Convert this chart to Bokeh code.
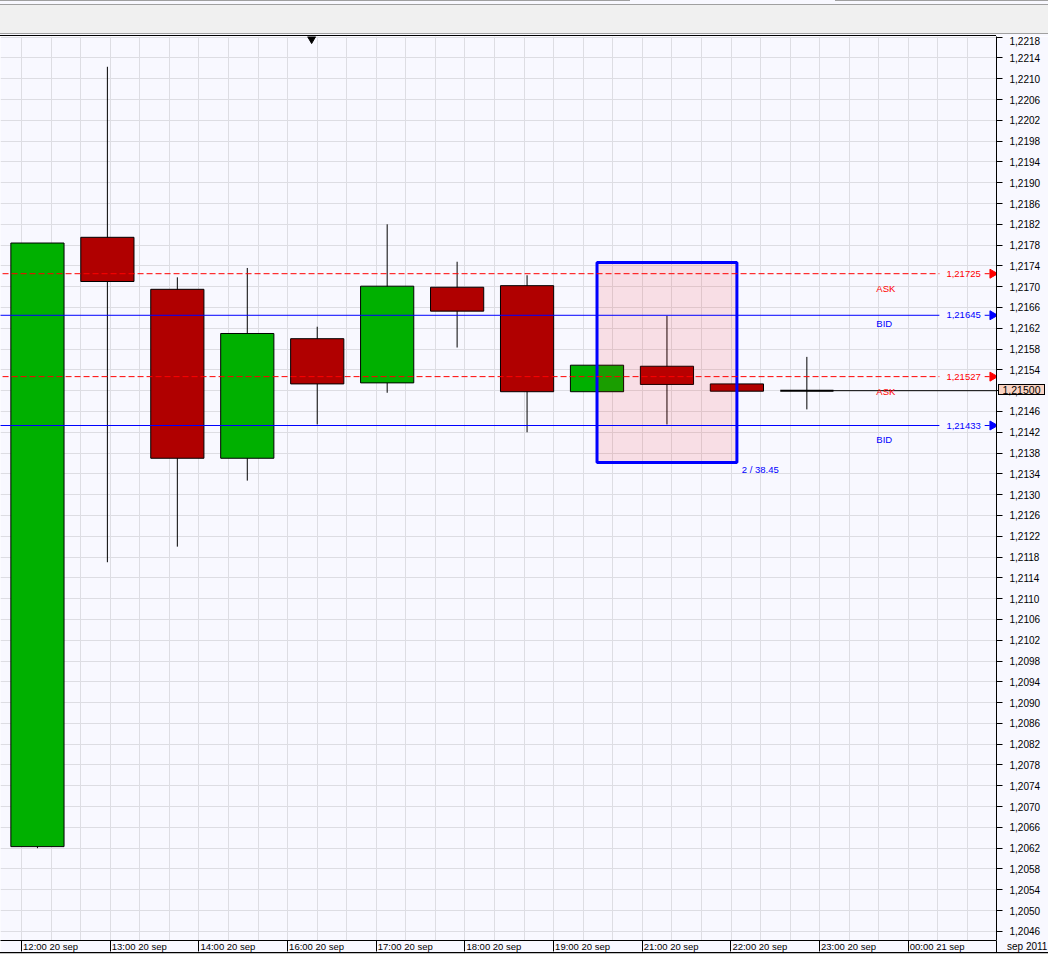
import math
from bokeh.plotting import figure
from bokeh.models import (Range1d, FixedTicker, CustomJSTickFormatter, Div,
                          ColumnDataSource)
from bokeh.layouts import column
from bokeh.embed import file_html
from bokeh.resources import INLINE
from bokeh.core.properties import value

# ---------------- data ----------------
candle_idx = list(range(12))
opens  = [1.20623, 1.21795, 1.21695, 1.21370, 1.21600, 1.21515,
          1.21699, 1.21702, 1.21498, 1.21547, 1.21513, 1.21500]
highs  = [1.21784, 1.22123, 1.21718, 1.21736, 1.21623, 1.21820,
          1.21748, 1.21722, 1.21549, 1.21644, 1.21513, 1.21565]
lows   = [1.20620, 1.21170, 1.21200, 1.21327, 1.21435, 1.21496,
          1.21583, 1.21420, 1.21498, 1.21435, 1.21499, 1.21464]
closes = [1.21784, 1.21710, 1.21370, 1.21610, 1.21513, 1.21701,
          1.21653, 1.21498, 1.21549, 1.21512, 1.21499, 1.21500]

x_tick_pos = [-0.228, 1.040, 2.307, 3.575, 4.843, 6.110,
              7.378, 8.645, 9.913, 11.180, 12.448]
x_tick_labels = ["12:00 20 sep", "13:00 20 sep", "14:00 20 sep", "16:00 20 sep",
                 "17:00 20 sep", "18:00 20 sep", "19:00 20 sep", "21:00 20 sep",
                 "22:00 20 sep", "23:00 20 sep", "00:00 21 sep"]
corner_label = "sep 2011"

y_ticks = [round(1.2046 + 0.0004 * k, 4) for k in range(44)]

levels = [1.21725, 1.21645, 1.21527, 1.21433]
level_side = ["ASK", "BID", "ASK", "BID"]
level_tag_gap = [15, 8.5, 15, 14.5]   # px below the line

last_price = 1.21500

sel_x0, sel_x1 = 8.0, 10.0
sel_top, sel_bottom = 1.217465, 1.21362
sel_label = "2 / 38.45"

cursor_x = 3.92

# ---------------- geometry ----------------
REF_PPX = 71.0        # reference px per candle
REF_PPU = 52909.0     # reference px per price unit


def rx(px):           # reference pixel x -> candle index
    return (px - 37.5) / REF_PPX


def ry(py):           # reference pixel y -> price
    return 1.2178 - (py - 249.3) / REF_PPU


W = 1048
STRIP_H = 36
H = 954 - STRIP_H
FRAME_W, FRAME_H = 996, 905
x_start, x_end = rx(0), rx(1011)
y_start, y_end = ry(957), ry(37)
SX = FRAME_W / (x_end - x_start)     # content px per index unit
SY = FRAME_H / (y_end - y_start)     # content px per price unit


def cx(v):
    return (v - x_start) * SX


def cy(v):
    return STRIP_H + (y_end - v) * SY


FONT_NAME = "Liberation Sans"
FONT = value(FONT_NAME)
RED, BLUE = "#FF0000", "#0000FF"
GRID = "#DDDDE3"
BG = "#F8F8FF"

p = figure(width=W, height=H, title=None,
           x_range=Range1d(x_start, x_end), y_range=Range1d(y_start, y_end),
           y_axis_location="right", toolbar_location=None, output_backend="svg",
           min_border_left=0, min_border_right=W - FRAME_W, min_border_top=0,
           min_border_bottom=H - FRAME_H, background_fill_color=BG,
           border_fill_color=BG, outline_line_color=None)

# x axis: separators as minor ticks, labels centred just right of them
label_centers = [t + rx(37.5 + 29.5) for t in x_tick_pos]
xa = p.xaxis[0]
xa.ticker = FixedTicker(ticks=label_centers, minor_ticks=x_tick_pos)
xa.formatter = CustomJSTickFormatter(
    args=dict(pos=label_centers, labels=x_tick_labels),
    code="for (let i = 0; i < pos.length; i++) { if (Math.abs(pos[i] - tick) < 1e-6) return labels[i]; } return '';")
xa.major_tick_out = 0
xa.major_tick_in = 0
xa.minor_tick_out = 11
xa.minor_tick_in = 0
xa.minor_tick_line_color = "black"
xa.axis_line_color = "black"
xa.major_label_standoff = -11
xa.major_label_text_font = FONT_NAME
xa.major_label_text_font_size = "9.5px"
xa.major_label_text_color = "black"

ya = p.yaxis[0]
ya.ticker = FixedTicker(ticks=y_ticks)
ya.formatter = CustomJSTickFormatter(code="return tick.toFixed(4).replace('.', ',');")
ya.major_tick_out = 6
ya.major_tick_in = 0
ya.minor_tick_out = 0
ya.minor_tick_in = 0
ya.axis_line_color = "black"
ya.major_label_standoff = 7
ya.major_label_text_font = FONT_NAME
ya.major_label_text_font_size = "10px"
ya.major_label_text_color = "black"

step = (x_tick_pos[1] - x_tick_pos[0]) / 3.0
grid_x = [x_tick_pos[0] + k * step for k in range(34)]
p.xgrid.ticker = FixedTicker(ticks=grid_x)
p.xgrid.grid_line_color = GRID
p.ygrid.ticker = FixedTicker(ticks=y_ticks)
p.ygrid.grid_line_color = GRID

# ---------------- candles ----------------
src = ColumnDataSource(dict(
    x=candle_idx,
    top=[max(o, c) for o, c in zip(opens, closes)],
    bottom=[min(o, c) for o, c in zip(opens, closes)],
    high=highs, low=lows,
    color=["#00B000" if c > o else "#B00000" for o, c in zip(opens, closes)],
    lw=[2 if o == c else 1 for o, c in zip(opens, closes)],
))
p.segment(x0="x", y0="high", x1="x", y1="low", source=src, line_color="black", line_width=1)
p.vbar(x="x", width=54 / REF_PPX, top="top", bottom="bottom", fill_color="color",
       line_color="black", line_width="lw", source=src)

# current price line
p.segment(x0=[candle_idx[-1]], y0=[last_price], x1=[x_end], y1=[last_price],
          line_color="black", line_width=1)

# selection box
p.quad(left=[sel_x0], right=[sel_x1], top=[sel_top], bottom=[sel_bottom],
       fill_color="#FF0000", fill_alpha=0.1, line_color=BLUE, line_width=3)
p.text(x=[sel_x1 + 5 / REF_PPX], y=[sel_bottom - 7.6 / REF_PPU], text=[sel_label],
       text_color=BLUE, text_align="left", text_baseline="middle",
       text_font=FONT, text_font_size="9.5px")

# ASK / BID levels
for lvl, side in zip(levels, level_side):
    col = RED if side == "ASK" else BLUE
    dash = "6 3" if side == "ASK" else "solid"
    p.segment(x0=[x_start - 1], y0=[lvl], x1=[rx(953)], y1=[lvl],
              line_color=col, line_width=1, line_dash=dash)
    p.segment(x0=[rx(999)], y0=[lvl], x1=[rx(1004)], y1=[lvl],
              line_color=col, line_width=1)
    p.scatter(x=[rx(1007)], y=[lvl], marker="triangle", size=9,
              angle=-math.pi / 2, fill_color=col, line_color=col)

lvl_colors = [RED if s == "ASK" else BLUE for s in level_side]
p.text(x=[rx(995)] * len(levels), y=levels,
       text=[f"{v:.5f}".replace(".", ",") for v in levels],
       text_color=lvl_colors, text_align="right", text_baseline="middle",
       text_font=FONT, text_font_size="9.5px")
p.text(x=[rx(889)] * len(levels),
       y=[v - g / REF_PPU for v, g in zip(levels, level_tag_gap)],
       text=level_side, text_color=lvl_colors, text_align="left",
       text_baseline="middle", text_font=FONT, text_font_size="9.5px")

# cursor marker at top
p.scatter(x=[cursor_x], y=[ry(39.5)], marker="inverted_triangle", size=8,
          fill_color="black", line_color="black")

# ---------------- window chrome + items in the axis margins ----------------
ax_x = cx(x_end)
frame_bottom = STRIP_H + FRAME_H
price_y = cy(last_price)
price_txt = f"{last_price:.5f}".replace(".", ",")
html = (
    f'<div style="position:relative;width:{W}px;height:{STRIP_H}px;background:{BG};">'
    '<div style="position:absolute;left:0;top:0;width:630px;height:1px;background:#A0A0A0;"></div>'
    '<div style="position:absolute;left:835px;top:0;width:213px;height:1px;background:#A0A0A0;"></div>'
    f'<div style="position:absolute;left:0;top:4px;width:{W}px;height:1px;background:#A0A0A0;"></div>'
    f'<div style="position:absolute;left:0;top:5px;width:{W}px;height:28px;background:#F0F0F0;"></div>'
    f'<div style="position:absolute;left:0;top:33px;width:{W}px;height:1px;background:#A0A0A0;"></div>'
    f'<div style="position:absolute;left:0;top:35px;width:{ax_x:.0f}px;height:1px;background:#000;"></div>'
    # price box on the right axis
    f'<div style="position:absolute;z-index:20;left:{ax_x + 2:.0f}px;top:{price_y - 6.5:.1f}px;'
    'width:47px;height:11px;background:#F9D3C3;border:1px solid #000;'
    f'font-family:\'{FONT_NAME}\';font-size:10.5px;line-height:11px;text-align:center;color:#000;">'
    f'{price_txt}</div>'
    # axis line continuing through the date strip + corner label
    f'<div style="position:absolute;z-index:20;left:{ax_x - 0.5:.0f}px;top:{frame_bottom:.0f}px;'
    'width:1px;height:11px;background:#000;"></div>'
    f'<div style="position:absolute;z-index:20;left:{ax_x + 11:.0f}px;top:{frame_bottom + 1:.0f}px;'
    f'font-family:\'{FONT_NAME}\';font-size:10px;line-height:10px;color:#000;white-space:nowrap;">'
    f'{corner_label}</div>'
    f'<div style="position:absolute;z-index:20;left:0;top:{frame_bottom + 11:.0f}px;width:{W}px;'
    'height:1px;background:#000;"></div>'
    f'<div style="position:absolute;z-index:20;left:0;top:{frame_bottom + 12:.0f}px;width:{W}px;'
    'height:1px;background:#C0C0C0;"></div>'
    '</div>')
strip = Div(text=html, width=W, height=STRIP_H, margin=(0, 0, 0, 0),
            styles={"overflow": "visible", "z-index": "20"})

layout = column(strip, p, spacing=0)
open("out.html", "w").write(file_html(layout, INLINE))
